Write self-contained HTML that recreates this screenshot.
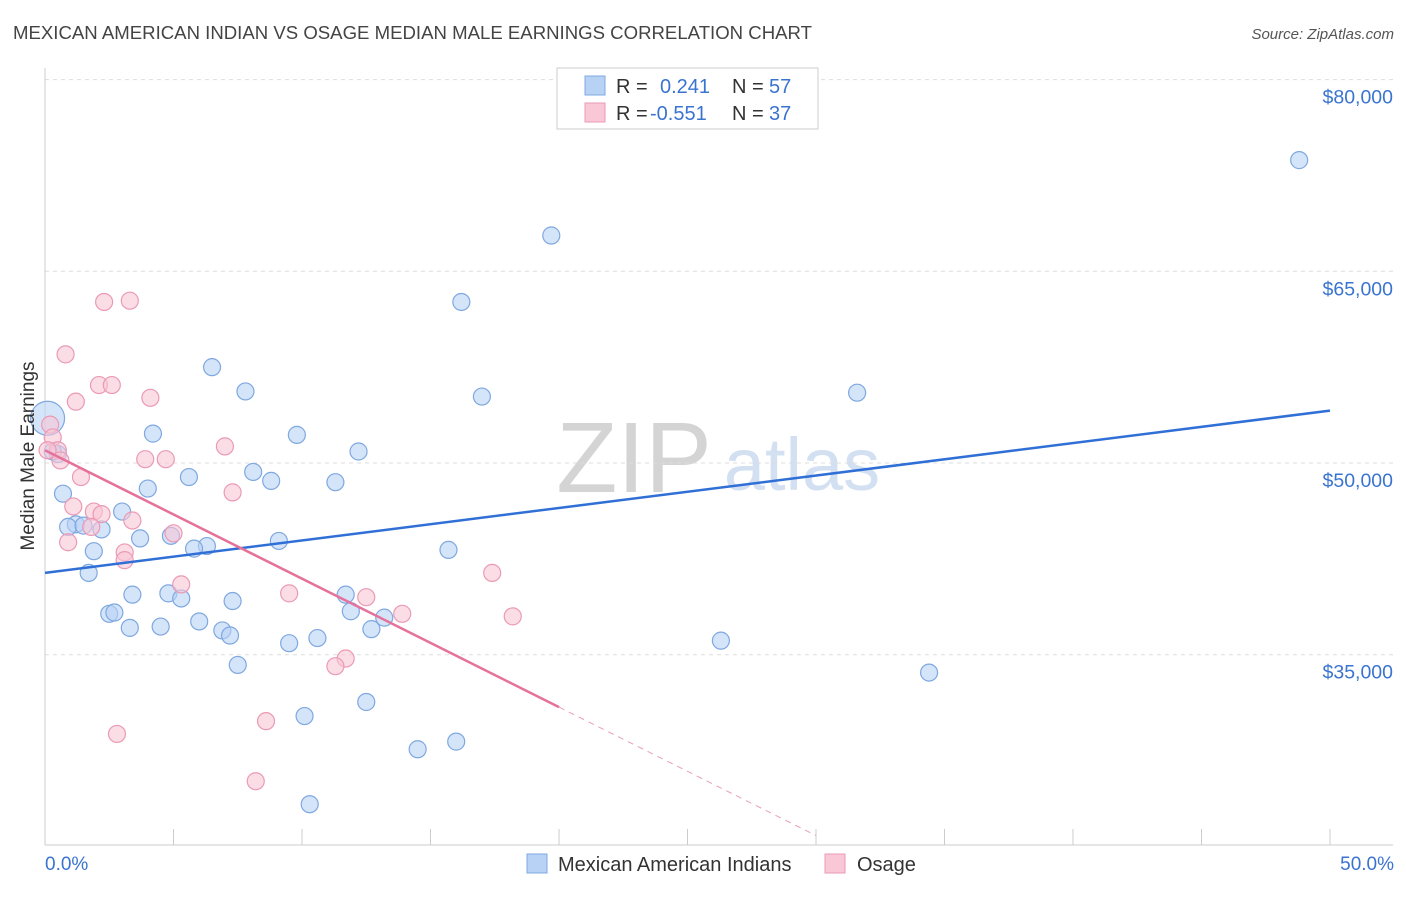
<!DOCTYPE html>
<html><head><meta charset="utf-8"><style>
body{margin:0;background:#fff;font-family:"Liberation Sans",sans-serif;}
svg text{font-family:"Liberation Sans",sans-serif;}
</style></head><body>
<svg id="chart" width="1406" height="892" xmlns="http://www.w3.org/2000/svg">
<text x="13" y="39" font-size="18.6" fill="#444">MEXICAN AMERICAN INDIAN VS OSAGE MEDIAN MALE EARNINGS CORRELATION CHART</text>
<text x="1394" y="39" font-size="15" fill="#555" text-anchor="end" font-style="italic">Source: ZipAtlas.com</text>
<text x="634" y="492" font-size="100" fill="#d4d4d4" font-family="Liberation Serif" text-anchor="middle">ZIP</text>
<text x="802" y="490" font-size="74" fill="#d2e0f2" text-anchor="middle">atlas</text>
<g id="grid"></g>
<g id="axes"></g>
<g id="marks"></g>
<text transform="translate(34,456) rotate(-90)" font-size="19" fill="#333" text-anchor="middle">Median Male Earnings</text>
<text x="45" y="870" font-size="19" fill="#3a74d0">0.0%</text>
<text x="1394" y="870" font-size="19" fill="#3a74d0" text-anchor="end">50.0%</text>
<g>
<rect x="557" y="68" width="261" height="61" fill="#fff" stroke="#ccc"/>
<rect x="585" y="76" width="20" height="19" fill="#b7d2f5" stroke="#7fa8e0"/>
<rect x="585" y="103" width="20" height="19" fill="#f9c7d6" stroke="#eb9ab5"/>
<text x="616" y="93" font-size="20" fill="#333">R = </text><text x="660" y="93" font-size="20" fill="#3a74d0">0.241</text>
<text x="732" y="93" font-size="20" fill="#333">N = </text><text x="769" y="93" font-size="20" fill="#3a74d0">57</text>
<text x="616" y="120" font-size="20" fill="#333">R = </text><text x="650" y="120" font-size="20" fill="#3a74d0">-0.551</text>
<text x="732" y="120" font-size="20" fill="#333">N = </text><text x="769" y="120" font-size="20" fill="#3a74d0">37</text>
</g>
<g>
<rect x="527" y="854" width="20" height="19" fill="#b7d2f5" stroke="#7fa8e0"/>
<text x="558" y="871" font-size="20" fill="#333">Mexican American Indians</text>
<rect x="825" y="854" width="20" height="19" fill="#f9c7d6" stroke="#eb9ab5"/>
<text x="857" y="871" font-size="20" fill="#333">Osage</text>
</g>
</svg>
<script>
const yTicks=[35000,50000,65000,80000];
const yTickLabels=["$35,000","$50,000","$65,000","$80,000"];
const xTicks=[0,5,10,15,20,25,30,35,40,45,50];
const blueX=[48.8,19.7,16.2,6.5,7.8,17.0,31.6,4.2,9.8,12.2,0.5,8.1,5.6,8.8,11.3,0.7,4.0,3.0,1.2,2.2,0.9,3.7,4.9,6.3,5.8,9.1,1.9,15.7,1.7,3.4,4.8,5.3,7.3,11.7,2.5,2.7,11.9,13.2,6.0,3.3,4.5,6.9,7.2,12.7,10.6,9.5,26.3,7.5,34.4,12.5,10.1,14.5,16.0,10.3,0.3,1.5];
const blueY=[73.7,67.8,62.6,57.5,55.6,55.2,55.5,52.3,52.2,50.9,50.7,49.3,48.9,48.6,48.5,47.6,48.0,46.2,45.2,44.8,45.0,44.1,44.3,43.5,43.3,43.9,43.1,43.2,41.4,39.7,39.8,39.4,39.2,39.7,38.2,38.3,38.4,37.9,37.6,37.1,37.2,36.9,36.5,37.0,36.3,35.9,36.1,34.2,33.6,31.3,30.2,27.6,28.2,23.3,50.9,45.1];
const blueBigX=[0.1];
const blueBigY=[53.5];
const pinkX=[0.2,0.3,0.5,0.8,1.2,2.3,3.3,2.1,2.6,4.1,7.0,3.9,4.7,1.4,7.3,1.1,1.9,2.2,1.8,3.4,0.9,3.1,3.1,5.0,5.3,9.5,12.5,13.9,17.4,18.2,11.7,11.3,8.6,2.8,8.2,0.1,0.6];
const pinkY=[53.0,52.0,51.0,58.5,54.8,62.6,62.7,56.1,56.1,55.1,51.3,50.3,50.3,48.9,47.7,46.6,46.2,46.0,45.0,45.5,43.8,43.0,42.4,44.5,40.5,39.8,39.5,38.2,41.4,38.0,34.7,34.1,29.8,28.8,25.1,51.0,50.2];
const blueTrend=[41.4,54.1]; // values at 0% and 50%
const pinkTrend=[51.0,-1.005]; // intercept, slope per %
const pinkSolidEnd=20, pinkDashEnd=30;

const NS="http://www.w3.org/2000/svg";
const X=p=>45+p*25.7;
const Y=v=>463-(v-50000)*191.7/15000;
const Yk=k=>Y(k*1000);
function mk(tag,attrs,parent){const e=document.createElementNS(NS,tag);for(const k in attrs)e.setAttribute(k,attrs[k]);document.getElementById(parent).appendChild(e);return e;}
yTicks.forEach((t,i)=>{
  const l=mk('line',{x1:45,x2:1393,y1:Y(t),y2:Y(t),stroke:'#ddd','stroke-dasharray':'4,4'},'grid');
  
  
  const tx=mk('text',{x:1393,y:Y(t)+24,'font-size':19.5,fill:'#3a74d0','text-anchor':'end'},'grid');
  tx.textContent=yTickLabels[i];
  
  
});
let a=mk('line',{x1:45,x2:45,y1:68,y2:845,stroke:'#ccc'},'axes');


a=mk('line',{x1:45,x2:1393,y1:845,y2:845,stroke:'#ccc'},'axes');


xTicks.forEach(t=>{
  const l=mk('line',{x1:X(t),x2:X(t),y1:829,y2:845,stroke:'#ccc'},'axes');
  
  
});
function dot(px,py,r,fill,stroke,name){
  const c=mk('circle',{cx:X(px),cy:Yk(py),r:r,fill:fill,'fill-opacity':0.6,stroke:stroke,'stroke-width':1.2},'marks');
  
  
}
blueX.forEach((p,i)=>dot(p,blueY[i],8.5,'#b7d2f5','#7fa8e0','blue-point'));
blueBigX.forEach((p,i)=>dot(p,blueBigY[i],17,'#b7d2f5','#7fa8e0','blue-point-large'));
pinkX.forEach((p,i)=>dot(p,pinkY[i],8.5,'#f9c7d6','#eb9ab5','pink-point'));
let t=mk('line',{x1:X(0),y1:Yk(blueTrend[0]),x2:X(50),y2:Yk(blueTrend[1]),stroke:'#2f6fd6','stroke-width':2.5},'marks');


const pv=p=>pinkTrend[0]+pinkTrend[1]*p;
t=mk('line',{x1:X(0),y1:Yk(pv(0)),x2:X(pinkSolidEnd),y2:Yk(pv(pinkSolidEnd)),stroke:'#e6719a','stroke-width':2.5},'marks');


t=mk('line',{x1:X(pinkSolidEnd),y1:Yk(pv(pinkSolidEnd)),x2:X(pinkDashEnd),y2:Yk(pv(pinkDashEnd)),stroke:'#e6a0b8','stroke-width':1,'stroke-dasharray':'6,5'},'marks');


</script>
</body></html>
